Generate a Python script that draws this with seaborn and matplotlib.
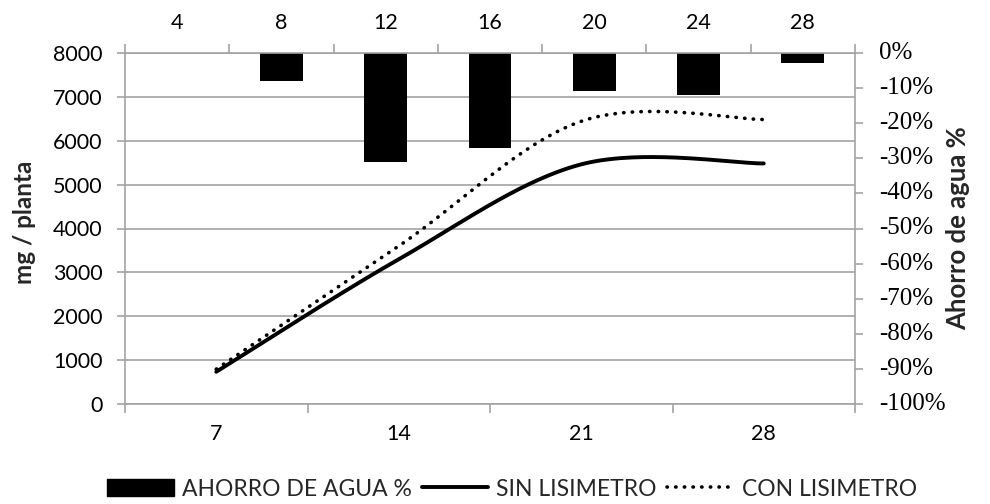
import numpy as np
import pandas as pd
import matplotlib
matplotlib.use("Agg")
import matplotlib.pyplot as plt
import matplotlib.transforms as mtransforms
from matplotlib.lines import Line2D
from matplotlib.patches import Patch
import seaborn as sns

# ---------------- data ----------------
days_bottom = ["7", "14", "21", "28"]
sin_lisimetro = [740, 3300, 5460, 5480]
con_lisimetro = [800, 3600, 6440, 6480]

days_top = ["4", "8", "12", "16", "20", "24", "28"]
ahorro_agua = [0.0, -0.08, -0.31, -0.27, -0.11, -0.12, -0.03]

left_ticks = [0, 1000, 2000, 3000, 4000, 5000, 6000, 7000, 8000]
right_ticks = [0.0, -0.1, -0.2, -0.3, -0.4, -0.5, -0.6, -0.7, -0.8, -0.9, -1.0]

# ---------------- style ----------------
sns.set_theme(style="white")
plt.rcParams["font.family"] = ["Lato", "DejaVu Sans"]
plt.rcParams["font.serif"] = ["Liberation Serif", "DejaVu Serif"]

GRID = "#a3a3a3"
W, H = 990, 504
fig = plt.figure(figsize=(W / 100, H / 100), dpi=100)

x0, x1 = 125, 855
y_top, y_bot = 52.7, 404.3
rect = [x0 / W, 1 - y_bot / H, (x1 - x0) / W, (y_bot - y_top) / H]

ax = fig.add_axes(rect)
axb = fig.add_axes(rect)
axb.patch.set_alpha(0)


def smooth(xv, yv, n=60):
    P = np.column_stack([xv, yv]).astype(float)
    out = []
    for i in range(len(P) - 1):
        p0 = P[i - 1] if i > 0 else P[i]
        p1, p2 = P[i], P[i + 1]
        p3 = P[i + 2] if i + 2 < len(P) else P[i + 1]
        c1 = p1 + (p2 - p0) / 6.0
        c2 = p2 - (p3 - p1) / 6.0
        t = np.linspace(0, 1, n)[:, None]
        seg = (1 - t) ** 3 * p1 + 3 * (1 - t) ** 2 * t * c1 + 3 * (1 - t) * t ** 2 * c2 + t ** 3 * p2
        out.append(seg if i == 0 else seg[1:])
    return np.vstack(out)


DOT = (0, (0.1, 2.3))
xpos = np.arange(len(days_bottom))
s_sin = smooth(xpos, sin_lisimetro)
s_con = smooth(xpos, con_lisimetro)

sns.lineplot(x=s_sin[:, 0], y=s_sin[:, 1], ax=ax, color="black", lw=2.8,
             sort=False, estimator=None, solid_capstyle="round")
sns.lineplot(x=s_con[:, 0], y=s_con[:, 1], ax=ax, color="black", lw=2.6,
             sort=False, estimator=None, linestyle=DOT,
             dash_capstyle="round")

ax.set_xlim(-0.5, len(days_bottom) - 0.5)
ax.set_ylim(0, 8000)
ax.set_yticks(left_ticks)
ax.set_yticklabels([str(v) for v in left_ticks])
ax.yaxis.grid(True, color=GRID, lw=1.2)
ax.xaxis.grid(False)
ax.set_xticks(np.arange(-0.5, len(days_bottom), 1.0))
ax.set_xticklabels([])
ax.set_xticks(xpos, minor=True)
ax.set_xticklabels(days_bottom, minor=True)
ax.tick_params(axis="x", which="major", direction="out", length=6.5, width=1.2,
               color=GRID, bottom=True)
ax.tick_params(axis="x", which="minor", length=0, pad=14, labelsize=15.5,
               labelcolor="black")
ax.tick_params(axis="y", which="major", direction="out", length=6, width=1.2,
               color=GRID, left=True, pad=10, labelsize=15.5, labelcolor="black")
for s in ["top", "right"]:
    ax.spines[s].set_visible(False)
for s in ["left", "bottom"]:
    ax.spines[s].set_color(GRID)
    ax.spines[s].set_linewidth(1.2)
ax.set_xlabel("")
ax.set_ylabel("")

# bars on secondary (top / right) axes
dfb = pd.DataFrame({"dia": days_top, "ahorro": ahorro_agua})
sns.barplot(data=dfb, x="dia", y="ahorro", order=days_top, ax=axb,
            color="black", width=0.41, linewidth=0, saturation=1)
axb.set_xlim(-0.5, len(days_top) - 0.5)
axb.set_ylim(-1.0, 0.0)
axb.xaxis.tick_top()
axb.yaxis.tick_right()
axb.set_xticks(np.arange(-0.5, len(days_top), 1.0))
axb.set_xticklabels([])
axb.set_xticks(np.arange(len(days_top)), minor=True)
axb.set_xticklabels(days_top, minor=True)
axb.tick_params(axis="x", which="major", direction="out", length=6.5, width=1.2,
                color=GRID, top=True, bottom=False)
axb.tick_params(axis="x", which="minor", length=0, pad=14, labelsize=15.5,
                labelcolor="black", top=True, bottom=False)
axb.set_yticks(right_ticks)
axb.set_yticklabels([])
axb.tick_params(axis="y", which="major", direction="out", length=6, width=1.2,
                color=GRID, right=True, left=False)
# right-hand percentage labels in a serif face
trans = mtransforms.blended_transform_factory(axb.transAxes, axb.transData) + \
    mtransforms.ScaledTranslation(24 / 100, 0, fig.dpi_scale_trans)
for v in right_ticks:
    axb.text(1.0, v, f"{int(round(v * 100))}%", transform=trans, ha="left",
             va="center", family="serif", fontsize=18, color="black",
             clip_on=False)
for s in ["left", "bottom"]:
    axb.spines[s].set_visible(False)
for s in ["top", "right"]:
    axb.spines[s].set_visible(True)
    axb.spines[s].set_color(GRID)
    axb.spines[s].set_linewidth(1.2)
axb.set_xlabel("")
axb.set_ylabel("")
axb.grid(False)

# axis titles
fig.text(24 / W, 1 - 222 / H, "mg / planta", rotation=90, ha="center",
         va="center", fontsize=17.5, fontweight="bold")
fig.text(958 / W, 1 - 228 / H, "Ahorro de agua %", rotation=90, ha="center",
         va="center", fontsize=18.5, fontweight="bold")

# legend
handles = [
    Patch(facecolor="black", edgecolor="black"),
    Line2D([0], [0], color="black", lw=2.8),
    Line2D([0], [0], color="black", lw=2.6, linestyle=DOT,
           dash_capstyle="round"),
]
labels = ["AHORRO DE AGUA %", "SIN LISIMETRO", "CON LISIMETRO"]
fig.legend(handles, labels, loc="center", bbox_to_anchor=(512 / W, 1 - 489 / H),
           ncol=3, frameon=False, fontsize=16.5, handlelength=2.9,
           handletextpad=0.35, columnspacing=0.45, handleheight=0.7)

fig.savefig("out.png", dpi=100)
